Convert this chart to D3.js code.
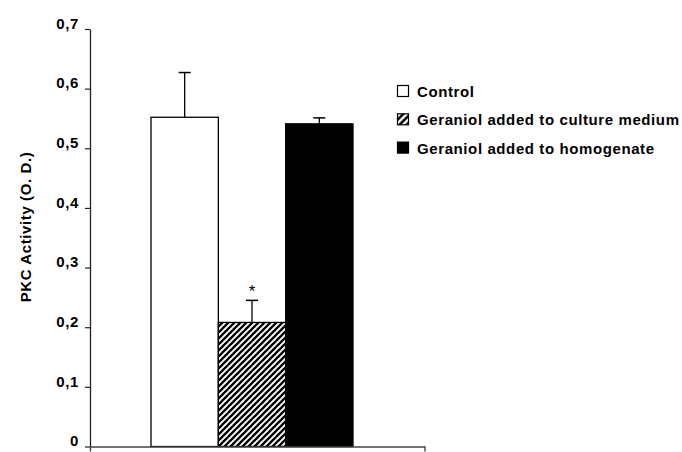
<!DOCTYPE html>
<html>
<head>
<meta charset="utf-8">
<script src="https://cdn.jsdelivr.net/npm/d3@7"></script>
<style>
	body { margin: 0; background: #fff; }
	.chart text { font-family: 'Liberation Sans', Arial, sans-serif; font-weight: bold; fill: #000; }
</style>
</head>
<body>
<div class="chart"></div>
<script>
// data
var groups = ['Control', 'Geraniol added to culture medium', 'Geraniol added to homogenate'];
var values = [0.552, 0.208, 0.541];
var errors = [0.075, 0.037, 0.010];
var marks = ['', '*', ''];
var yTicks = [0, 0.1, 0.2, 0.3, 0.4, 0.5, 0.6, 0.7];

initBarChart();

function initBarChart() {
	var fullWidth = 682;
	var fullHeight = 452;
	var margin = { top: 29, right: 258, bottom: 5, left: 90 };
	var width = fullWidth - margin.left - margin.right;
	var height = fullHeight - margin.top - margin.bottom - 0.5;

	var svg = d3.select('.chart')
		.append('svg')
		.attr('width', fullWidth)
		.attr('height', fullHeight);

	var defs = svg.append('defs');

	// hatch for bars
	defs.append('pattern')
		.attr('id', 'hatch')
		.attr('patternUnits', 'userSpaceOnUse')
		.attr('width', 6)
		.attr('height', 6)
		.call(function(p) {
			p.append('rect').attr('width', 6).attr('height', 6).attr('fill', '#fff');
			p.append('path')
				.attr('d', 'M-1,1 l2,-2 M0,6 l6,-6 M5,7 l2,-2')
				.attr('stroke', '#000')
				.attr('stroke-width', 2.3);
		});

	// coarser hatch for legend box
	defs.append('pattern')
		.attr('id', 'hatch-legend')
		.attr('patternUnits', 'userSpaceOnUse')
		.attr('width', 7)
		.attr('height', 7)
		.call(function(p) {
			p.append('rect').attr('width', 7).attr('height', 7).attr('fill', '#fff');
			p.append('path')
				.attr('d', 'M-1,1 l2,-2 M0,7 l7,-7 M6,8 l2,-2')
				.attr('stroke', '#000')
				.attr('stroke-width', 2.6);
		});

	var fills = ['#fff', 'url(#hatch)', '#000'];
	var legendFills = ['#fff', 'url(#hatch-legend)', '#000'];

	var wrapper = svg.append('g')
		.attr('transform', 'translate(' + margin.left + ',' + margin.top + ')');

	var yScale = d3.scaleLinear()
		.domain([0, 0.7])
		.range([height, 0]);

	var xScale = d3.scaleBand()
		.domain(groups)
		.range([61, 263])
		.padding(0);

	var commaFormat = function(d) {
		return d === 0 ? '0' : d3.format('.1f')(d).replace('.', ',');
	};

	// bars
	wrapper.selectAll('.bar')
		.data(groups)
		.enter()
		.append('rect')
		.attr('class', 'bar')
		.attr('x', function(d) { return xScale(d); })
		.attr('y', function(d, i) { return yScale(values[i]); })
		.attr('width', xScale.bandwidth())
		.attr('height', function(d, i) { return height - yScale(values[i]); })
		.attr('fill', function(d, i) { return fills[i]; })
		.attr('stroke', '#000')
		.attr('stroke-width', 1.3);

	// error bars (upper only)
	var err = wrapper.selectAll('.err')
		.data(groups)
		.enter()
		.append('g')
		.attr('class', 'err')
		.attr('transform', function(d) {
			return 'translate(' + (xScale(d) + xScale.bandwidth() / 2) + ',0)';
		});

	err.append('line')
		.attr('y1', function(d, i) { return yScale(values[i]); })
		.attr('y2', function(d, i) { return yScale(values[i] + errors[i]); })
		.attr('stroke', '#000')
		.attr('stroke-width', 1.3);

	err.append('line')
		.attr('x1', -6)
		.attr('x2', 6)
		.attr('y1', function(d, i) { return yScale(values[i] + errors[i]); })
		.attr('y2', function(d, i) { return yScale(values[i] + errors[i]); })
		.attr('stroke', '#000')
		.attr('stroke-width', 1.5);

	err.append('text')
		.attr('y', function(d, i) { return yScale(values[i] + errors[i]) - 3; })
		.attr('text-anchor', 'middle')
		.style('font-weight', 'normal')
		.style('font-size', '17px')
		.text(function(d, i) { return marks[i]; });

	// y axis
	var yAxis = wrapper.append('g')
		.attr('class', 'axis y-axis')
		.call(d3.axisLeft(yScale).tickValues(yTicks).tickFormat(commaFormat).tickSize(5).tickSizeOuter(0).tickPadding(6));

	yAxis.select('.domain').attr('stroke', '#222').attr('stroke-width', 1.3);
	yAxis.selectAll('.tick line').attr('stroke', '#222').attr('stroke-width', 1.2);
	yAxis.selectAll('.tick text')
		.attr('x', -11)
		.attr('dy', '-0.05em')
		.style('font-size', '15px')
		.style('letter-spacing', '0.6px');

	// x axis, no ticks, end marks only
	var xLine = d3.scaleLinear().domain([0, 1]).range([0, 334.5]);

	var xAxis = wrapper.append('g')
		.attr('class', 'axis x-axis')
		.attr('transform', 'translate(0,' + height + ')')
		.call(d3.axisBottom(xLine).ticks(0).tickSizeOuter(5));

	xAxis.selectAll('.tick').remove();
	xAxis.select('.domain').attr('stroke', '#444').attr('stroke-width', 1.4);

	// y title
	svg.append('text')
		.attr('transform', 'translate(31,227) rotate(-90)')
		.attr('text-anchor', 'middle')
		.style('font-size', '15px')
		.style('letter-spacing', '0.6px')
		.text('PKC Activity (O. D.)');

	// legend
	var legendLineHeight = 28.3;
	var legendHolder = svg.append('g')
		.attr('transform', 'translate(397,85)');

	var legend = legendHolder.selectAll('.legend')
		.data(groups)
		.enter()
		.append('g')
		.attr('class', 'legend')
		.attr('transform', function(d, i) {
			return 'translate(0,' + (legendLineHeight * i) + ')';
		});

	legend.append('rect')
		.attr('x', 0.5)
		.attr('y', 0.5)
		.attr('width', 11)
		.attr('height', 11)
		.attr('fill', function(d, i) { return legendFills[i]; })
		.attr('stroke', '#000')
		.attr('stroke-width', 1.2);

	legend.append('text')
		.attr('x', 20)
		.attr('y', 12)
		.style('font-size', '15px')
		.style('letter-spacing', '0.6px')
		.text(function(d) { return d; });
}
</script>
</body>
</html>
